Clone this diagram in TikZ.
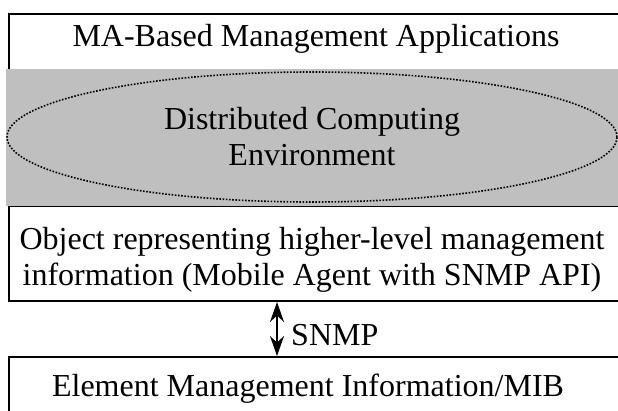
\documentclass[tikz,border=0pt]{standalone}
\usepackage{fontspec}
\setmainfont{Liberation Serif}
\usepackage{tikz}
\usetikzlibrary{arrows.meta}
\tikzset{>=Stealth}
\usetikzlibrary{shapes.geometric,positioning}
\tikzset{
    layer/.style={draw,line width=2pt,rectangle,anchor=north west,
        minimum width=640pt,inner sep=0pt,
        font=\fontsize{32}{36}\selectfont,align=center},
    cloud/.style={ellipse,draw,line width=1.6pt,dash pattern=on 1.6pt off 1.6pt,
        minimum width=610pt,minimum height=130pt,inner sep=0pt,
        font=\fontsize{32}{36}\selectfont,align=center},
    lbl/.style={font=\fontsize{32}{36}\selectfont}
}

\begin{document}
\begin{tikzpicture}[x=1pt,y=1pt]
    \useasboundingbox (0,0) rectangle (618,-410);
    \clip (0,0) rectangle (618,-410);
    \node[layer,minimum height=57.5pt] at (8,-12.5) (a3f01c2e) {};
    \node[lbl] at (316,-39) (a3f01c2f) {MA-Based Management Applications};
    \node[layer,minimum height=95pt] at (8,-205) (5be9d410) {};
    \node[lbl,align=center] at (312,-260) (5be9d411) {Object representing higher-level management\\information (Mobile Agent with SNMP API)};
    \node[layer,minimum height=80pt] at (8,-356) (e07c4b93) {};
    \node[lbl] at (308,-389) (e07c4b94) {Element Management Information/MIB};
    \fill[black!25] (6,-69) rectangle (640,-206);
    \node[cloud] at (312,-137) (9d2a66f1) {Distributed Computing\\Environment};
    \coordinate (c41f) at (277,0);
    \draw[{Stealth[length=20pt,width=14pt]}-{Stealth[length=20pt,width=14pt]}, line width=1.8pt]
    (5be9d410.south -| c41f) -- node[lbl,right,xshift=10pt,yshift=-6pt] {SNMP} (e07c4b93.north -| c41f);
\end{tikzpicture}
\end{document}
